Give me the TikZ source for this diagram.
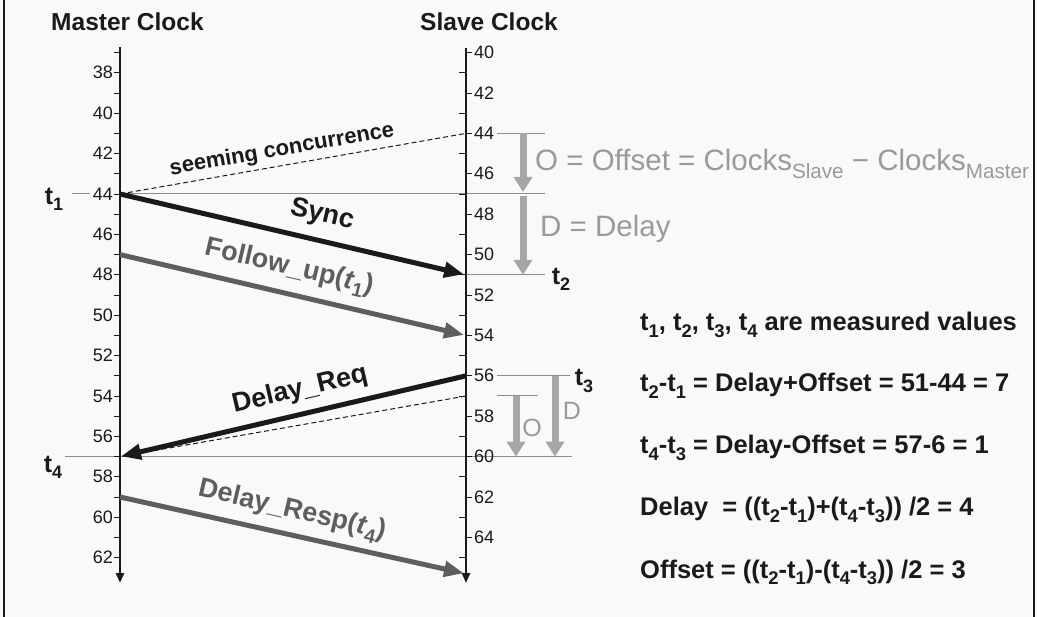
\documentclass[tikz,border=0pt]{standalone}
\usepackage{fontspec}
\setmainfont{Liberation Sans}
\usepackage{graphicx}
\usetikzlibrary{arrows.meta}
\definecolor{txt}{HTML}{1A1A1A}
\definecolor{bgc}{HTML}{F9F9F7}
\definecolor{guidec}{HTML}{8C8C8C}
\definecolor{msggray}{HTML}{5E5E5E}
\definecolor{fatc}{HTML}{A6A6A6}
\definecolor{lightt}{HTML}{9A9A9A}
\newcommand\sbs[2][0.72]{\raisebox{-0.25em}{\scalebox{#1}{#2}}}
\newcommand\fsz[1]{\fontsize{#1}{#1}\selectfont}
\newcommand\mY[1]{194+(#1-44)*20.2}
\newcommand\sY[1]{194+(#1-47)*20.2}
\begin{document}
\begin{tikzpicture}[x=1pt,y=-1pt,
  num/.style={font=\fsz{18}, text=txt, inner sep=0pt},
  mnum/.style={num, anchor=east},
  snum/.style={num, anchor=west},
  title/.style={font=\fsz{24.5}\bfseries, text=txt, anchor=base, inner sep=0pt},
  tlab/.style={font=\fsz{25}\bfseries, text=txt, inner sep=0pt},
  guide/.style={draw=guidec, line width=1pt},
  tick/.style={draw=txt, line width=0.9pt},
  axis/.style={draw=txt, line width=2.6pt, -{Triangle[length=10pt,width=8pt]}},
  msg/.style={line width=5pt, -{Triangle[length=20pt,width=15pt]}},
  fat/.style={draw=fatc, line width=7pt, -{Triangle[length=15pt,width=18pt]}},
  dashline/.style={draw=txt, line width=1pt, dash pattern=on 5pt off 3pt},
  mlab/.style={font=\fsz{27}\bfseries, inner sep=0pt},
  formula/.style={font=\fsz{25.5}\bfseries, text=txt, anchor=base west, inner sep=0pt},
  graytext/.style={font=\fsz{29.5}, text=lightt, anchor=base west, inner sep=0pt},
  odlab/.style={font=\fsz{25}, text=lightt, inner sep=0pt}]
\fill[bgc] (0,0) rectangle (1037,617);
\useasboundingbox (0,0) rectangle (1037,617);
% borders
\draw[line width=2pt, draw=txt] (4,0) -- (4,617);
\draw[line width=2pt, draw=txt] (1034,0) -- (1034,617);
% coordinates
\coordinate (mtop) at (120,47);
\coordinate (mbot) at (120,583);
\coordinate (stop) at (466,48);
\coordinate (sbot) at (466,583);
\coordinate (m44) at (120,{\mY{44}});
\coordinate (m47) at (120,{\mY{47}});
\coordinate (m57) at (120,{\mY{57}});
\coordinate (m59) at (120,{\mY{59}});
\coordinate (s44) at (466,{\sY{44}});
\coordinate (s51) at (466,{\sY{51}});
\coordinate (s54) at (466,{\sY{54}});
\coordinate (s56) at (466,{\sY{56}});
\coordinate (s57) at (466,{\sY{57}});
\coordinate (s66) at (466,{\sY{65.8}});
% guide lines
\draw[guide] (72,{\mY{44}}) -- (90,{\mY{44}});
\draw[guide] (m44) -- (545,{\mY{44}});
\draw[guide] (497,{\sY{44}}) -- (545,{\sY{44}});
\draw[guide] (s51) -- (545,{\sY{51}});
\draw[guide] (497,{\sY{56}}) -- (570,{\sY{56}});
\draw[guide] (497,{\sY{57}}) -- (538,{\sY{57}});
\draw[guide] (65,{\mY{57}}) -- (572,{\mY{57}});
% axes
\draw[axis] (mtop) -- (mbot);
\draw[axis] (stop) -- (sbot);
\foreach \v in {37,...,62} \draw[tick] (120,{\mY{\v}}) -- ++(-6,0);
\foreach \v in {41,43,...,65} \draw[tick] (466,{\sY{\v}}) -- ++(-7,0);
\foreach \v in {40,42,...,64} \draw[tick] (466,{\sY{\v}}) -- ++(6,0);
\foreach \v in {38,40,...,62} \node[mnum] (ml\v) at (113,{\mY{\v}}) {\v};
\foreach \v in {40,42,...,64} \node[snum] (sl\v) at (474,{\sY{\v}}) {\v};
% titles
\node[title] (tm) at (127.5,31) {Master Clock};
\node[title] (ts) at (489,31) {Slave Clock};
% dashed lines
\draw[dashline] (m44) -- (s44);
\draw[dashline] (s57) -- (m57);
% messages
\draw[msg, draw=txt, shorten >=2pt] (m44) -- (s51);
\draw[msg, draw=msggray, shorten >=2pt] (m47) -- (s54);
\draw[msg, draw=txt, shorten >=1pt] (s56) -- (m57);
\draw[msg, draw=msggray, shorten >=2pt] (m59) -- (s66);
% message labels
\node[font=\fsz{22}\bfseries, text=txt, inner sep=0pt, rotate=9.9] (lsc) at (282,150) {seeming concurrence};
\node[mlab, text=txt, rotate=-13.1] (lsync) at (322,215) {Sync};
\node[mlab, text=msggray, rotate=-13.1] (lfol) at (289,268) {Follow\_up(\textit{t}\sbs{1})};
\node[mlab, text=txt, rotate=13.1] (lreq) at (300,390) {Delay\_Req};
\node[mlab, text=msggray, rotate=-13.1] (lresp) at (292,511) {Delay\_Resp(\textit{t}\sbs{4})};
% time labels
\node[tlab] (t1) at (54,199) {t\sbs{1}};
\node[tlab] (t2) at (561,279) {t\sbs{2}};
\node[tlab] (t3) at (584,381) {t\sbs{3}};
\node[tlab] (t4) at (53,467) {t\sbs{4}};
% offset / delay arrows
\coordinate (oa) at (523,{\sY{44}});
\coordinate (ob) at (523,{\sY{47}});
\coordinate (db) at (523,{\sY{51}});
\draw[fat, shorten >=2pt] (oa) -- (ob);
\draw[fat, shorten <=2pt] (ob) -- (db);
\coordinate (o2a) at (516,{\sY{57}});
\coordinate (o2b) at (516,{\sY{60}});
\coordinate (d2a) at (555,{\sY{56}});
\coordinate (d2b) at (555,{\sY{60}});
\draw[fat] (o2a) -- (o2b);
\draw[fat] (d2a) -- (d2b);
\node[odlab] (lo) at (532,428) {O};
\node[odlab] (ld) at (572,411) {D};
\node[graytext] (gO) at (535,171) {O = Offset = Clocks\sbs[0.7]{Slave} − Clocks\sbs[0.7]{Master}};
\node[graytext] (gD) at (540,237) {D = Delay};
% formulas
\node[formula] (f1) at (640,331) {t\sbs{1}, t\sbs{2}, t\sbs{3}, t\sbs{4} are measured values};
\node[formula] (f2) at (640,392) {t\sbs{2}-t\sbs{1} = Delay+Offset = 51-44 = 7};
\node[formula] (f3) at (640,454) {t\sbs{4}-t\sbs{3} = Delay-Offset = 57-6 = 1};
\node[formula] (f4) at (640,516) {Delay\ \ = ((t\sbs{2}-t\sbs{1})+(t\sbs{4}-t\sbs{3})) /2 = 4};
\node[formula] (f5) at (640,578) {Offset = ((t\sbs{2}-t\sbs{1})-(t\sbs{4}-t\sbs{3})) /2 = 3};
\end{tikzpicture}
\end{document}
